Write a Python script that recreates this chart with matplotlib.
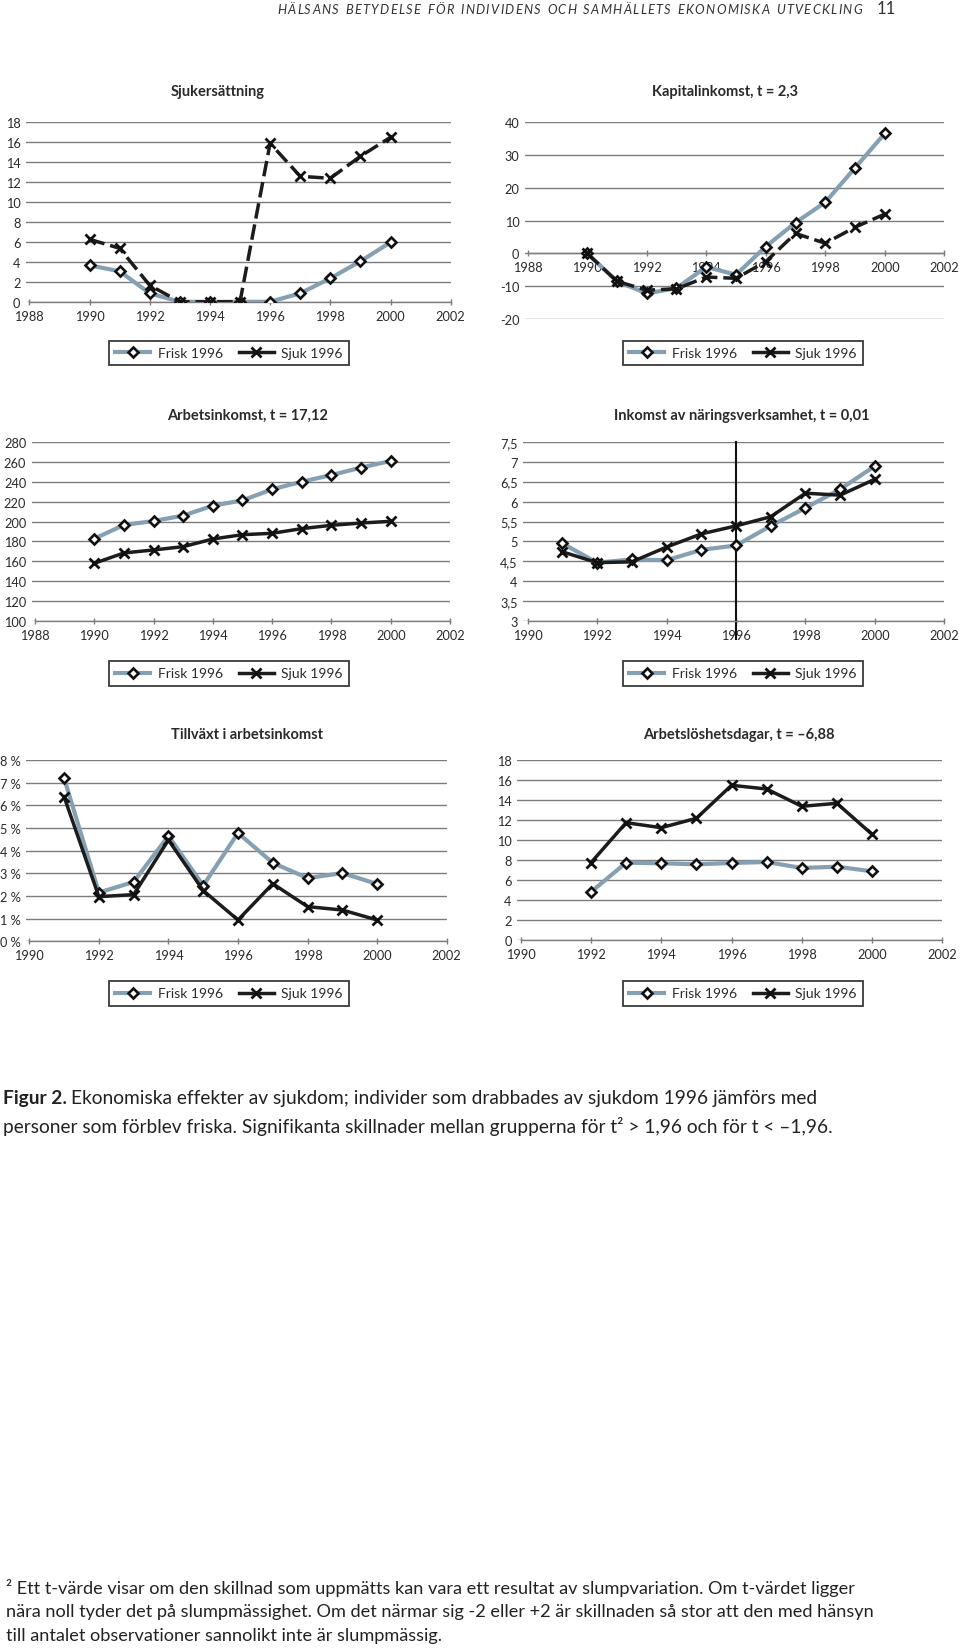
import matplotlib
matplotlib.use('Agg')
import matplotlib.pyplot as plt
from matplotlib.lines import Line2D

plt.rcParams['font.family'] = ['Lato', 'DejaVu Sans']

# ---------------- data ----------------
years_a = [1990, 1991, 1992, 1993, 1994, 1995, 1996, 1997, 1998, 1999, 2000]
years_b = [1991, 1992, 1993, 1994, 1995, 1996, 1997, 1998, 1999, 2000]
years_c = [1992, 1993, 1994, 1995, 1996, 1997, 1998, 1999, 2000]

sjukers_frisk = [3.7, 3.1, 0.9, 0.05, 0.05, 0.05, 0.05, 0.9, 2.4, 4.1, 6.0]
sjukers_sjuk = [6.3, 5.4, 1.7, 0.05, 0.05, 0.05, 15.9, 12.6, 12.4, 14.6, 16.5]

kapital_frisk = [0.0, -8.5, -12.2, -10.6, -4.1, -6.5, 2.1, 9.4, 15.6, 26.1, 36.6]
kapital_sjuk = [0.0, -8.5, -11.2, -10.8, -7.2, -7.6, -2.5, 6.1, 3.1, 8.0, 12.0]

arbets_frisk = [182.8, 196.5, 200.5, 205.9, 215.9, 221.2, 232.3, 239.9, 246.6, 254.0, 260.7]
arbets_sjuk = [158.1, 168.5, 171.5, 174.8, 182.5, 186.8, 188.2, 192.9, 196.2, 198.5, 200.2]

naring_frisk = [4.95, 4.47, 4.55, 4.53, 4.79, 4.90, 5.39, 5.84, 6.31, 6.89]
naring_sjuk = [4.74, 4.47, 4.49, 4.86, 5.19, 5.39, 5.62, 6.21, 6.16, 6.56]

tillvaxt_frisk = [7.2, 2.15, 2.62, 4.65, 2.46, 4.78, 3.46, 2.79, 3.01, 2.53]
tillvaxt_sjuk = [6.38, 1.97, 2.06, 4.47, 2.24, 0.94, 2.54, 1.53, 1.38, 0.94]

arbetslos_frisk = [4.8, 7.73, 7.67, 7.57, 7.7, 7.8, 7.2, 7.33, 6.87]
arbetslos_sjuk = [7.73, 11.73, 11.23, 12.17, 15.47, 15.1, 13.37, 13.67, 10.57]

titles = ["Sjukersättning", "Kapitalinkomst, t = 2,3",
          "Arbetsinkomst, t = 17,12", "Inkomst av näringsverksamhet, t = 0,01",
          "Tillväxt i arbetsinkomst", "Arbetslöshetsdagar, t = –6,88"]
series_labels = ["Frisk 1996", "Sjuk 1996"]

yt1 = [0, 2, 4, 6, 8, 10, 12, 14, 16, 18]
yt2 = [-20, -10, 0, 10, 20, 30, 40]
yt3 = [100, 120, 140, 160, 180, 200, 220, 240, 260, 280]
yt4 = [3, 3.5, 4, 4.5, 5, 5.5, 6, 6.5, 7, 7.5]
yt4_labels = ["3", "3,5", "4", "4,5", "5", "5,5", "6", "6,5", "7", "7,5"]
yt5 = [0, 1, 2, 3, 4, 5, 6, 7, 8]
yt5_labels = ["0 %", "1 %", "2 %", "3 %", "4 %", "5 %", "6 %", "7 %", "8 %"]
yt6 = [0, 2, 4, 6, 8, 10, 12, 14, 16, 18]
xt_88 = [1988, 1990, 1992, 1994, 1996, 1998, 2000, 2002]
xt_90 = [1990, 1992, 1994, 1996, 1998, 2000, 2002]

header_text = "HÄLSANS BETYDELSE FÖR INDIVIDENS OCH SAMHÄLLETS EKONOMISKA UTVECKLING"
page_number = "11"
caption_bold = "Figur 2."
caption_line1 = "Ekonomiska effekter av sjukdom; individer som drabbades av sjukdom 1996 jämförs med"
caption_line2 = "personer som förblev friska. Signifikanta skillnader mellan grupperna för t² > 1,96 och för t < –1,96."
foot_lines = [
    "² Ett t-värde visar om den skillnad som uppmätts kan vara ett resultat av slumpvariation. Om t-värdet ligger",
    "nära noll tyder det på slumpmässighet. Om det närmar sig -2 eller +2 är skillnaden så stor att den med hänsyn",
    "till antalet observationer sannolikt inte är slumpmässig.",
]

# ---------------- style ----------------
W, H = 960, 1649
FRISK_C = '#86a0b3'
SJUK_C = '#1c1c1c'
GRID_C = '#7c7c7c'
TXT_C = '#2a2a2a'

fig = plt.figure(figsize=(W / 100, H / 100), dpi=100)


def px_axes(l, r, t, b):
    return fig.add_axes([l / W, 1 - b / H, (r - l) / W, (b - t) / H])


def panel(rect, x0, x1, xpad, ylim, yticks, ylabels, xticks, xs, fy, sy,
          dashed, title, title_xy, legend_xy, zero_axis=False, vline=None):
    ax = px_axes(*rect)
    ax.set_axisbelow(True)
    ls = (0, (4.5, 1.7)) if dashed else '-'
    ax.plot(xs, fy, color=FRISK_C, lw=3.0, marker='D', ms=5.2, mfc='white',
            mec='#111111', mew=1.9, zorder=3, solid_joinstyle='round')
    ax.plot(xs, sy, color=SJUK_C, lw=2.5, ls=ls, marker='x', ms=7.5,
            mec='#111111', mew=2.0, zorder=4, solid_joinstyle='round')
    ax.set_xlim(x0 - xpad, x1)
    ax.set_ylim(*ylim)
    ax.set_yticks(yticks)
    ax.set_yticklabels(ylabels if ylabels else [str(v) for v in yticks])
    ax.set_xticks(xticks)
    ax.set_xticklabels([str(v) for v in xticks])
    ax.yaxis.grid(True, color=GRID_C, lw=1.0)
    for s in ['top', 'right', 'left']:
        ax.spines[s].set_visible(False)
    ax.spines['bottom'].set_color(GRID_C)
    ax.spines['bottom'].set_linewidth(1.0)
    ax.spines['bottom'].set_bounds(x0, x1)
    if zero_axis:
        ax.spines['bottom'].set_position(('data', 0))
    ax.tick_params(axis='y', length=0, pad=4, labelsize=9.2, labelcolor=TXT_C)
    ax.tick_params(axis='x', direction='inout', length=5, width=1.0,
                   color=GRID_C, pad=3, labelsize=9.2, labelcolor=TXT_C)
    if vline is not None:
        ax.axvline(vline, ymin=-0.1, ymax=1.0, color='#111111', lw=1.5,
                   clip_on=False, zorder=2)
    fig.text(title_xy[0] / W, 1 - title_xy[1] / H, title, ha='center',
             va='center', fontsize=10.5, fontweight='bold', color=TXT_C)
    handles = [Line2D([], [], color=FRISK_C, lw=3.0, marker='D', ms=5.2,
                      mfc='white', mec='#111111', mew=1.9),
               Line2D([], [], color=SJUK_C, lw=2.5, marker='x', ms=7.5,
                      mec='#111111', mew=2.0)]
    leg = ax.legend(handles, series_labels, loc='center', ncol=2,
                    bbox_to_anchor=(legend_xy[0] / W, 1 - legend_xy[1] / H),
                    bbox_transform=fig.transFigure, fontsize=10,
                    frameon=True, fancybox=False, edgecolor='#3a3a3a',
                    framealpha=1, handlelength=2.5, handletextpad=0.55,
                    columnspacing=1.15, borderpad=0.45, labelcolor=TXT_C)
    leg.get_frame().set_linewidth(1.3)
    return ax


panel((26, 450.7, 123.3, 303.3), 1988, 2002, 0.11, (0, 18), yt1, None, xt_88,
      years_a, sjukers_frisk, sjukers_sjuk, True, titles[0], (218, 91.7),
      (229, 354))
panel((525, 944.3, 123.3, 320), 1988, 2002, 0.09, (-20, 40), yt2, None, xt_88,
      years_a, kapital_frisk, kapital_sjuk, True, titles[1], (725, 91.7),
      (743, 354), zero_axis=True)
panel((31.7, 450, 442.7, 622.3), 1988, 2002, 0.11, (100, 280), yt3, None,
      xt_88, years_a, arbets_frisk, arbets_sjuk, False, titles[2],
      (248, 415.7), (229, 674.5))
panel((523, 944.3, 442.7, 622.3), 1990, 2002, 0.135, (3, 7.5), yt4,
      yt4_labels, xt_90, years_b, naring_frisk, naring_sjuk, False, titles[3],
      (741.7, 415.7), (743, 674.5), vline=1996)
panel((26, 446.7, 761, 942.3), 1990, 2002, 0.095, (0, 8), yt5, yt5_labels,
      xt_90, years_b, tillvaxt_frisk, tillvaxt_sjuk, False, titles[4],
      (246.7, 735), (229, 994.5))
panel((517.3, 942.3, 761, 941), 1990, 2002, 0.097, (0, 18), yt6, None, xt_90,
      years_c, arbetslos_frisk, arbetslos_sjuk, False, titles[5],
      (739.3, 735), (743, 994.5))

# ---------------- page texts ----------------
renderer = fig.canvas.get_renderer()

# letter-spaced running header
hx0, hx1, hy = 277.0, 862.0, 10.0
chars = []
widths = []
for ch in header_text:
    t = fig.text(0, 1 - hy / H, ch, ha='left', va='center', fontsize=9.3,
                 style='italic', color='#333333')
    if ch == ' ':
        w = fig.text(0, 0, 'I', fontsize=9.3, style='italic').get_window_extent(renderer).width * 1.2
    else:
        w = t.get_window_extent(renderer).width
    chars.append(t)
    widths.append(w)
# remove helper texts created for space width
for t in list(fig.texts):
    if t not in chars and t.get_text() == 'I':
        t.remove()
total_w = sum(widths)
track = (hx1 - hx0 - total_w) / (len(chars) - 1)
x = hx0
for t, w in zip(chars, widths):
    t.set_x(x / W)
    x += w + track

fig.text(877 / W, 1 - 9.5 / H, page_number, ha='left', va='center',
         fontsize=12, color='#333333')

cap_fs = 13.8
t_bold = fig.text(3 / W, 1 - 1099 / H, caption_bold, ha='left', va='center',
                  fontsize=cap_fs, fontweight='bold', color='#222222')
bb = t_bold.get_window_extent(renderer)
fig.text((bb.x1 + 4) / W, 1 - 1099 / H, caption_line1,
         ha='left', va='center', fontsize=cap_fs, color='#222222')
fig.text(3 / W, 1 - 1127 / H, caption_line2,
         ha='left', va='center', fontsize=cap_fs, color='#222222')

foot_fs = 13.1
for i, line in enumerate(foot_lines):
    fig.text(6 / W, 1 - (1588 + 24 * i) / H, line, ha='left', va='center',
             fontsize=foot_fs, color='#222222')

fig.savefig('out.png', dpi=100, facecolor='white')
